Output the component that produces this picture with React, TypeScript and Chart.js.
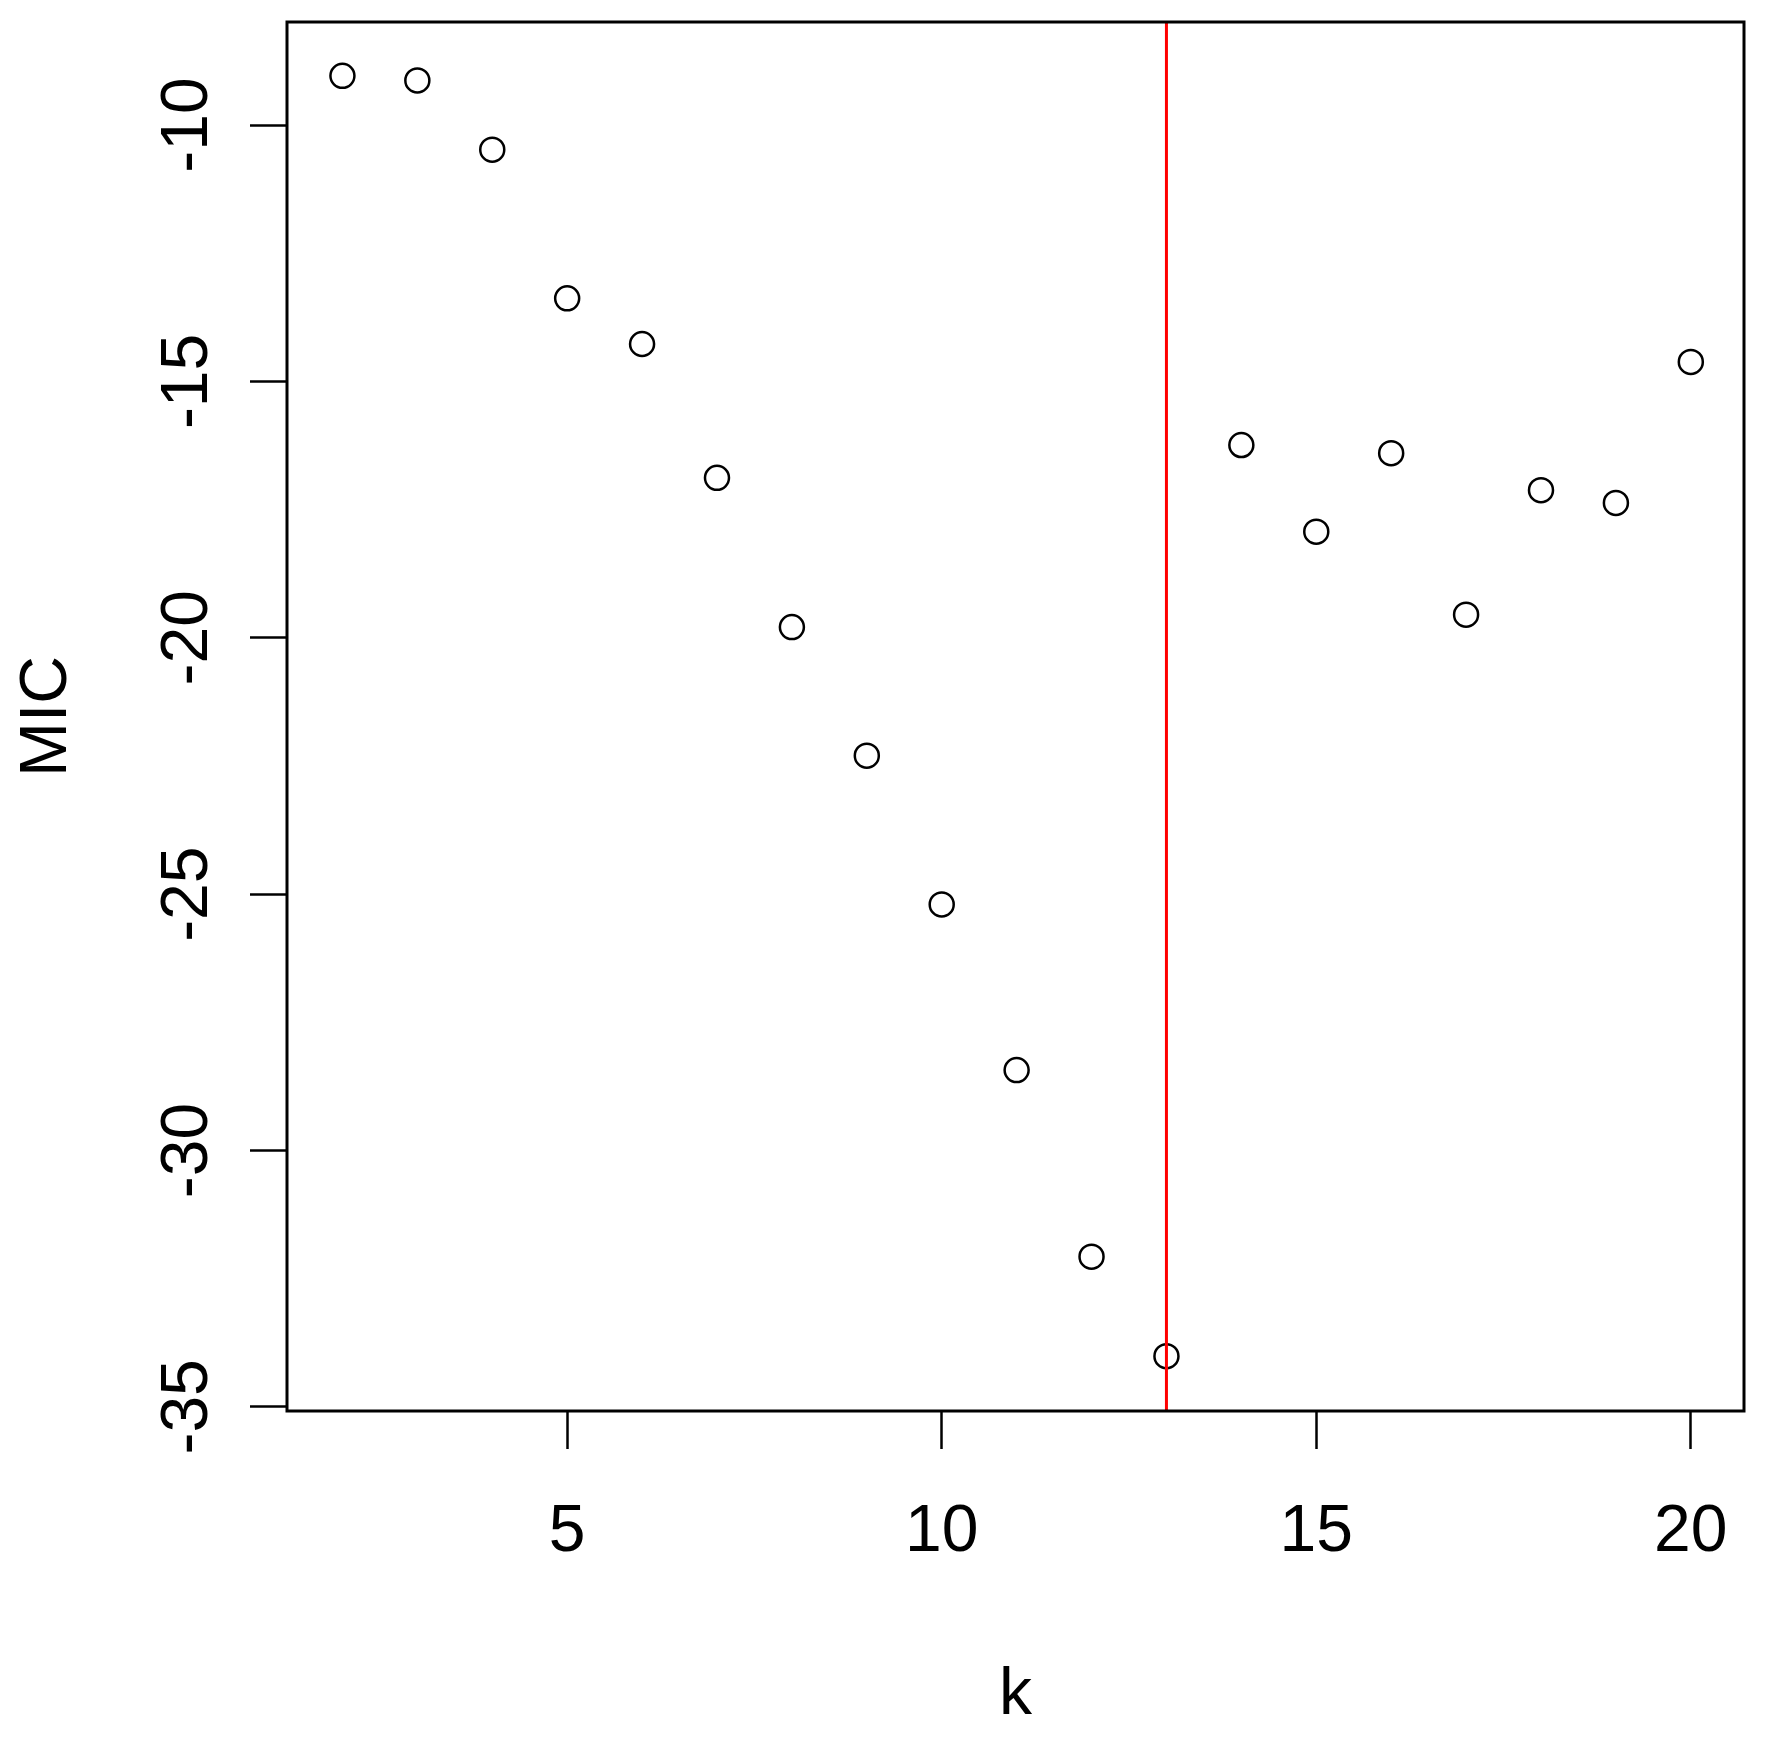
import React, { useEffect, useRef } from "react";
import { Chart, registerables } from "chart.js";

Chart.register(...registerables);

// ---- data ----
const kValues = [2, 3, 4, 5, 6, 7, 8, 9, 10, 11, 12, 13, 14, 15, 16, 17, 18, 19, 20];
const micValues = [
  -9.04, -9.13, -10.48, -13.38, -14.27, -16.88, -19.79, -22.3, -25.2, -28.43,
  -32.07, -34.01, -16.24, -17.93, -16.4, -19.55, -17.12, -17.37, -14.62,
];
const xTickValues = [5, 10, 15, 20];
const yTickValues = [-35, -30, -25, -20, -15, -10];
const chosenK = 13;
const xRange = [1.26, 20.71];
const yRange = [-35.08, -7.99];
const xTitle = "k";
const yTitle = "MIC";

const FONT = "'Liberation Sans', Arial, sans-serif";
const FS = 66;

export default function App() {
  const ref = useRef<HTMLCanvasElement | null>(null);

  useEffect(() => {
    document.body.style.margin = "0";
    const canvas = ref.current;
    if (!canvas) return;

    const rPlot = {
      id: "rPlot",
      afterDraw(chart: any) {
        const { ctx, chartArea } = chart;
        ctx.save();
        // box
        ctx.strokeStyle = "#000";
        ctx.lineWidth = 3;
        ctx.strokeRect(
          chartArea.left,
          chartArea.top,
          chartArea.right - chartArea.left,
          chartArea.bottom - chartArea.top
        );
        // y tick labels (rotated, parallel to axis as in R)
        const ys = chart.scales.y;
        ctx.fillStyle = "#000";
        ctx.font = `${FS}px ${FONT}`;
        ctx.textAlign = "center";
        ctx.textBaseline = "alphabetic";
        ys.ticks.forEach((t: any) => {
          const py = ys.getPixelForValue(t.value);
          ctx.save();
          ctx.translate(207, py);
          ctx.rotate(-Math.PI / 2);
          ctx.fillText(String(t.value), 0, 0);
          ctx.restore();
        });
        ctx.restore();
      },
    };

    const chart = new Chart(canvas, {
      type: "scatter",
      data: {
        datasets: [
          {
            type: "line",
            data: [
              { x: chosenK, y: yRange[0] },
              { x: chosenK, y: yRange[1] },
            ],
            borderColor: "#ff0000",
            borderWidth: 3,
            pointRadius: 0,
            pointHoverRadius: 0,
            fill: false,
            order: 0,
          } as any,
          {
            type: "scatter",
            data: kValues.map((k, i) => ({ x: k, y: micValues[i] })),
            borderColor: "#000",
            backgroundColor: "rgba(0,0,0,0)",
            borderWidth: 2.5,
            pointRadius: 12,
            pointHoverRadius: 12,
            order: 1,
          },
        ],
      },
      options: {
        responsive: false,
        animation: false,
        events: [],
        layout: { padding: { top: 22, right: 28, left: 0, bottom: 0 } },
        plugins: {
          legend: { display: false },
          tooltip: { enabled: false },
        },
        scales: {
          x: {
            type: "linear",
            position: "bottom",
            min: xRange[0],
            max: xRange[1],
            afterBuildTicks: (s: any) => {
              s.ticks = xTickValues.map((v) => ({ value: v }));
            },
            afterFit: (s: any) => {
              s.height = 327;
              s.paddingLeft = 0;
              s.paddingRight = 0;
            },
            border: { display: false },
            grid: {
              drawOnChartArea: false,
              drawTicks: true,
              tickLength: 38,
              tickWidth: 2.5,
              color: "#000",
            },
            ticks: {
              color: "#000",
              font: { size: FS, family: FONT },
              padding: 44,
              maxRotation: 0,
              minRotation: 0,
              autoSkip: false,
              callback: (v: any) => String(v),
            },
            title: {
              display: true,
              text: xTitle,
              color: "#000",
              font: { size: FS, family: FONT },
              padding: { top: 0, bottom: 3 },
            },
          },
          y: {
            type: "linear",
            position: "left",
            min: yRange[0],
            max: yRange[1],
            afterBuildTicks: (s: any) => {
              s.ticks = yTickValues.map((v) => ({ value: v }));
            },
            afterFit: (s: any) => {
              s.width = 287;
              s.paddingTop = 0;
              s.paddingBottom = 0;
            },
            border: { display: false },
            grid: {
              drawOnChartArea: false,
              drawTicks: true,
              tickLength: 37,
              tickWidth: 2.5,
              color: "#000",
            },
            ticks: { display: false },
            title: {
              display: true,
              text: yTitle,
              color: "#000",
              font: { size: FS, family: FONT },
              padding: { top: 8, bottom: 0 },
            },
          },
        },
      },
      plugins: [rPlot],
    });

    return () => chart.destroy();
  }, []);

  return (
    <div style={{ width: 1772, height: 1738, position: "relative", background: "#fff" }}>
      <canvas ref={ref} width={1772} height={1738} style={{ display: "block" }} />
    </div>
  );
}
